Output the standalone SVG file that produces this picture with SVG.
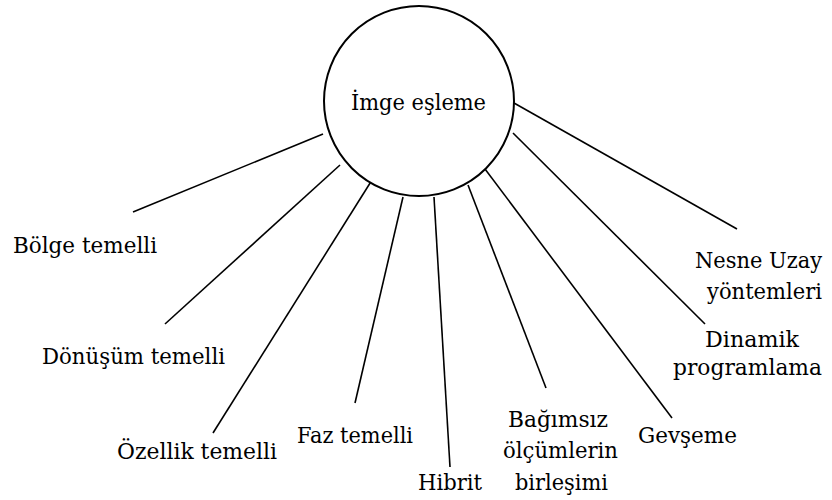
<svg xmlns="http://www.w3.org/2000/svg" width="832" height="500" viewBox="0 0 832 500">
<style>
text{font-family:"DejaVu Serif","Liberation Serif",serif;font-size:23px;fill:#000}
line{stroke:#000;stroke-width:1.6}
circle{fill:#fff;stroke:#000;stroke-width:2}
</style>
<rect width="832" height="500" fill="#fff"/>
<g id="connectors">
<line x1="133" y1="212" x2="323" y2="134"/>
<line x1="165" y1="324" x2="340" y2="165"/>
<line x1="213" y1="433" x2="372" y2="180"/>
<line x1="355" y1="403" x2="403" y2="197"/>
<line x1="450" y1="467" x2="434" y2="197"/>
<line x1="546" y1="388" x2="468" y2="185"/>
<line x1="672" y1="418" x2="482" y2="165"/>
<line x1="705" y1="324" x2="513" y2="133"/>
<line x1="737" y1="229" x2="514" y2="103"/>
</g>
<g id="center">
<circle cx="419" cy="101" r="95"/>
<text x="351" y="110" textLength="135" lengthAdjust="spacingAndGlyphs">İmge eşleme</text>
</g>
<g id="bolge"><text x="13" y="253" textLength="144" lengthAdjust="spacingAndGlyphs">Bölge temelli</text></g>
<g id="donusum"><text x="42" y="364" textLength="183" lengthAdjust="spacingAndGlyphs">Dönüşüm temelli</text></g>
<g id="ozellik"><text x="117" y="459" textLength="160" lengthAdjust="spacingAndGlyphs">Özellik temelli</text></g>
<g id="faz"><text x="297" y="443" textLength="116" lengthAdjust="spacingAndGlyphs">Faz temelli</text></g>
<g id="hibrit"><text x="418" y="490" textLength="64" lengthAdjust="spacingAndGlyphs">Hibrit</text></g>
<g id="bagimsiz">
<text x="508" y="427" textLength="100" lengthAdjust="spacingAndGlyphs">Bağımsız</text>
<text x="503" y="458" textLength="115" lengthAdjust="spacingAndGlyphs">ölçümlerin</text>
<text x="515" y="490" textLength="93" lengthAdjust="spacingAndGlyphs">birleşimi</text>
</g>
<g id="gevseme"><text x="638" y="443" textLength="99" lengthAdjust="spacingAndGlyphs">Gevşeme</text></g>
<g id="dinamik">
<text x="705" y="347" textLength="94" lengthAdjust="spacingAndGlyphs">Dinamik</text>
<text x="673" y="375" textLength="149" lengthAdjust="spacingAndGlyphs">programlama</text>
</g>
<g id="nesne">
<text x="695" y="268" style="font-size:22px" textLength="127" lengthAdjust="spacingAndGlyphs">Nesne Uzay</text>
<text x="707" y="299" textLength="115" lengthAdjust="spacingAndGlyphs">yöntemleri</text>
</g>
</svg>
